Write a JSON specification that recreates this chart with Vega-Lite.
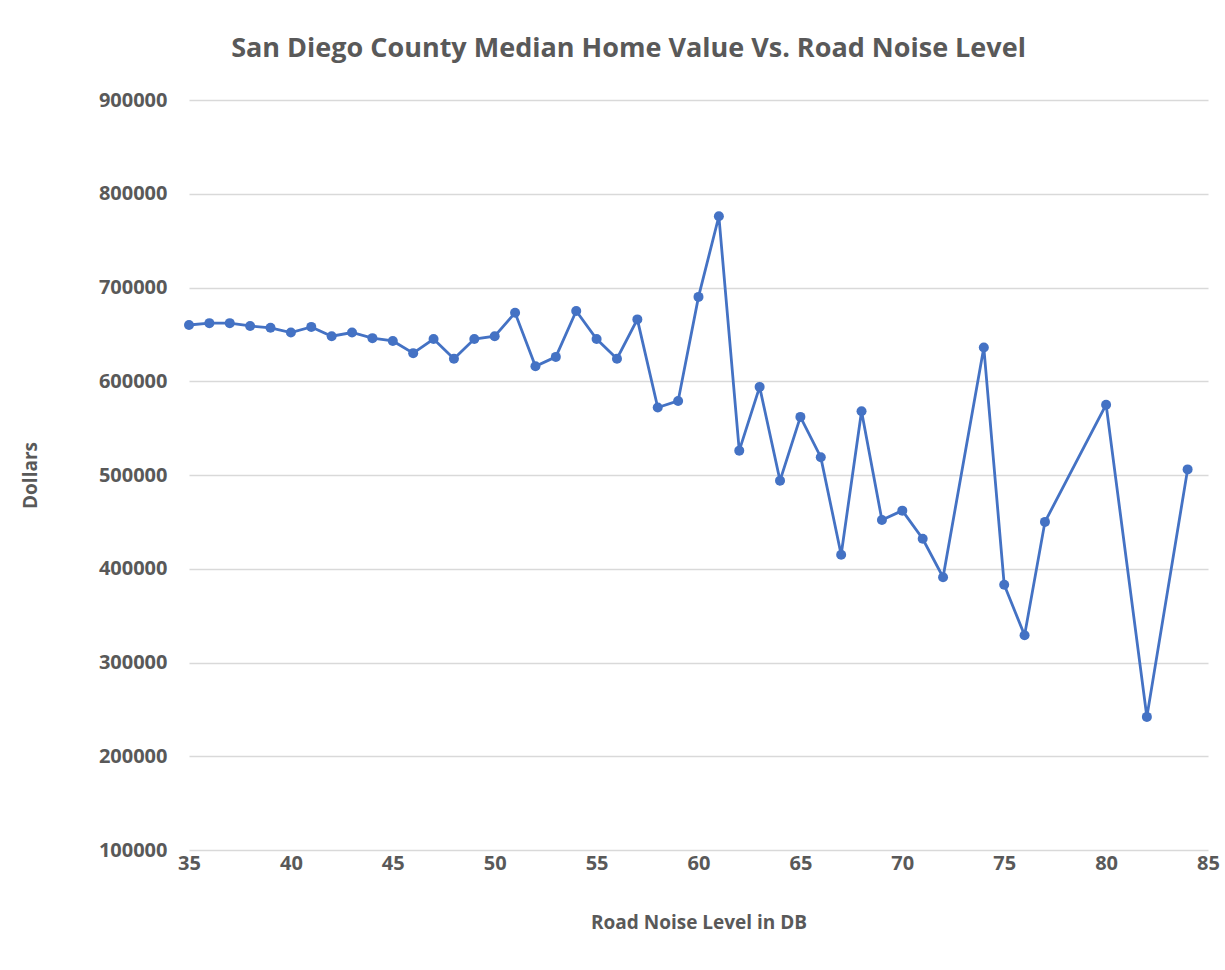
{
  "$schema": "https://vega.github.io/schema/vega-lite/v6.json",
  "width": 1019,
  "height": 750,
  "autosize": "none",
  "padding": {"left": 189, "top": 100, "right": 17, "bottom": 120},
  "background": "white",
  "title": {
    "text": "San Diego County Median Home Value Vs. Road Noise Level",
    "font": "Open Sans",
    "fontSize": 27,
    "fontWeight": "bold",
    "color": "#595959",
    "anchor": "middle",
    "dx": -70,
    "offset": 27
  },
  "config": {
    "view": {"stroke": null},
    "axis": {
      "labelFont": "Open Sans",
      "titleFont": "Open Sans",
      "labelColor": "#595959",
      "titleColor": "#595959",
      "labelFontWeight": "bold",
      "titleFontWeight": "bold",
      "labelFontSize": 20,
      "titleFontSize": 19,
      "gridColor": "#d9d9d9",
      "gridWidth": 1.5,
      "ticks": false,
      "domain": false
    }
  },
  "data": {
    "values": [
      {"db": 35, "value": 660000},
      {"db": 36, "value": 662000},
      {"db": 37, "value": 662000},
      {"db": 38, "value": 659000},
      {"db": 39, "value": 657000},
      {"db": 40, "value": 652000},
      {"db": 41, "value": 658000},
      {"db": 42, "value": 648000},
      {"db": 43, "value": 652000},
      {"db": 44, "value": 646000},
      {"db": 45, "value": 643000},
      {"db": 46, "value": 630000},
      {"db": 47, "value": 645000},
      {"db": 48, "value": 624000},
      {"db": 49, "value": 645000},
      {"db": 50, "value": 648000},
      {"db": 51, "value": 673000},
      {"db": 52, "value": 616000},
      {"db": 53, "value": 626000},
      {"db": 54, "value": 675000},
      {"db": 55, "value": 645000},
      {"db": 56, "value": 624000},
      {"db": 57, "value": 666000},
      {"db": 58, "value": 572000},
      {"db": 59, "value": 579000},
      {"db": 60, "value": 690000},
      {"db": 61, "value": 776000},
      {"db": 62, "value": 526000},
      {"db": 63, "value": 594000},
      {"db": 64, "value": 494000},
      {"db": 65, "value": 562000},
      {"db": 66, "value": 519000},
      {"db": 67, "value": 415000},
      {"db": 68, "value": 568000},
      {"db": 69, "value": 452000},
      {"db": 70, "value": 462000},
      {"db": 71, "value": 432000},
      {"db": 72, "value": 391000},
      {"db": 74, "value": 636000},
      {"db": 75, "value": 383000},
      {"db": 76, "value": 329000},
      {"db": 77, "value": 450000},
      {"db": 80, "value": 575000},
      {"db": 82, "value": 242000},
      {"db": 84, "value": 506000}
    ]
  },
  "mark": {
    "type": "line",
    "color": "#4472C4",
    "strokeWidth": 2.8,
    "point": {"filled": true, "size": 100, "color": "#4472C4", "opacity": 1}
  },
  "encoding": {
    "x": {
      "field": "db",
      "type": "quantitative",
      "title": "Road Noise Level in DB",
      "scale": {"domain": [35, 85], "nice": false, "zero": false},
      "axis": {
        "values": [35, 40, 45, 50, 55, 60, 65, 70, 75, 80, 85],
        "grid": false,
        "labelPadding": 3,
        "titlePadding": 40,
        "labelFlush": false
      }
    },
    "y": {
      "field": "value",
      "type": "quantitative",
      "title": "Dollars",
      "scale": {"domain": [100000, 900000], "nice": false, "zero": false},
      "axis": {
        "values": [100000, 200000, 300000, 400000, 500000, 600000, 700000, 800000, 900000],
        "format": "d",
        "labelPadding": 22,
        "titlePadding": 58
      }
    }
  }
}
